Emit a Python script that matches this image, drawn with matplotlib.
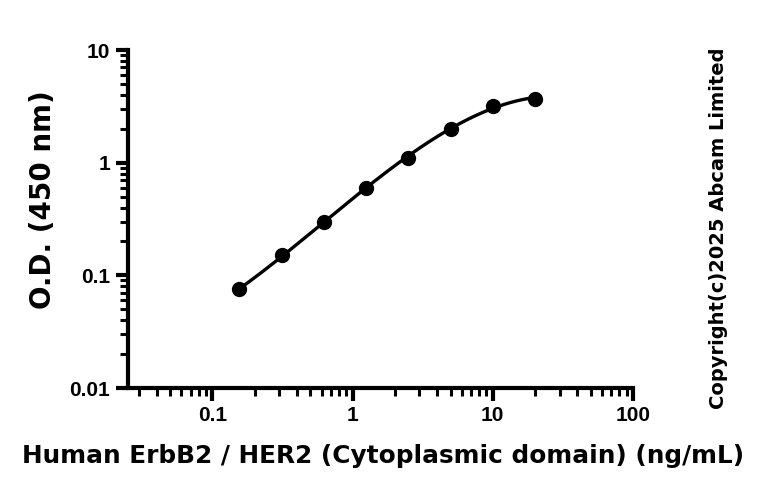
import numpy as np
import matplotlib
matplotlib.use("Agg")
import matplotlib.pyplot as plt
from matplotlib.ticker import LogLocator, FixedLocator, NullFormatter

# concentraciones (ng/mL) y lecturas de O.D.
conc = [0.156, 0.3125, 0.625, 1.25, 2.5, 5, 10, 20]
od = [0.075, 0.15, 0.30, 0.60, 1.1, 2.0, 3.2, 3.7]
x_ticks = [0.1, 1, 10, 100]
x_tick_labels = ["0.1", "1", "10", "100"]
y_ticks = [0.01, 0.1, 1, 10]
y_tick_labels = ["0.01", "0.1", "1", "10"]

fig = plt.figure(figsize=(7.68, 4.92), dpi=100)
ax = fig.add_axes([128 / 768, 1 - 388 / 492, (633 - 128) / 768, (388 - 50) / 492])

# curva suave: ajuste polinomico en escala log-log
lx = np.log10(conc)
ly = np.log10(od)
coef = np.polyfit(lx, ly, 3)
xs = np.linspace(lx[0], lx[-1], 200)
ax.plot(10 ** xs, 10 ** np.polyval(coef, xs), color="black", lw=2.4, zorder=2)
ax.plot(conc, od, "o", color="black", ms=10, zorder=3)

ax.set_xscale("log")
ax.set_yscale("log")
ax.set_xlim(0.025, 100)
ax.set_ylim(0.01, 10)

ax.xaxis.set_major_locator(FixedLocator(x_ticks))
ax.set_xticklabels(x_tick_labels)
ax.yaxis.set_major_locator(FixedLocator(y_ticks))
ax.set_yticklabels(y_tick_labels)
ax.xaxis.set_minor_locator(LogLocator(base=10, subs=np.arange(2, 10)))
ax.yaxis.set_minor_locator(LogLocator(base=10, subs=np.arange(2, 10)))
ax.xaxis.set_minor_formatter(NullFormatter())
ax.yaxis.set_minor_formatter(NullFormatter())

for s in ["top", "right"]:
    ax.spines[s].set_visible(False)
for s in ["left", "bottom"]:
    ax.spines[s].set_linewidth(3)
ax.tick_params(which="major", length=9, width=3, labelsize=15, pad=4)
ax.tick_params(which="minor", length=6, width=2.2)
for lab in ax.get_xticklabels() + ax.get_yticklabels():
    lab.set_fontweight("bold")
    lab.set_family("Liberation Sans")

ax.set_xlabel("Human ErbB2 / HER2 (Cytoplasmic domain) (ng/mL)", fontsize=17.8,
              fontweight="bold")
ax.set_ylabel("O.D. (450 nm)", fontsize=20, fontweight="bold")
ax.xaxis.set_label_coords(0.505, -0.165)
ax.yaxis.set_label_coords(-0.14, 0.556)

fig.text(718 / 768, 1 - 228 / 492, "Copyright(c)2025 Abcam Limited", rotation=90,
         ha="center", va="center", fontsize=14, fontweight="bold")

fig.savefig("out.png", dpi=100)
